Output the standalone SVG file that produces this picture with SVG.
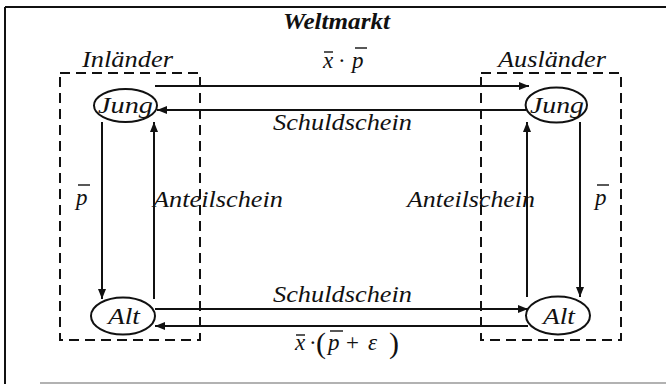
<svg xmlns="http://www.w3.org/2000/svg" width="666" height="384" viewBox="0 0 666 384">
<style>
text{font-family:'Liberation Serif','DejaVu Serif','Times New Roman',serif;font-style:italic;fill:#111;}
.lbl{font-size:23px;}
.node{font-size:23px;}
.up{font-style:normal;}
.par{font-size:30px;font-style:normal;}
.ell{fill:#fff;stroke:#111;stroke-width:2;}
.dash{fill:none;stroke:#111;stroke-width:2;stroke-dasharray:10,6;}
.conn{stroke:#111;stroke-width:2;fill:none;}
.ol{stroke:#111;stroke-width:1.4;}
</style>
<defs>
<marker id="ah" markerWidth="10" markerHeight="8" refX="10" refY="4" orient="auto" markerUnits="userSpaceOnUse">
<path d="M0,0 L10,4 L0,8 Z" fill="#111"/>
</marker>
</defs>
<rect width="666" height="384" fill="#fff"/>
<g id="frame">
<line x1="5" y1="7" x2="666" y2="7" stroke="#111" stroke-width="2"/>
<line x1="5" y1="7" x2="5" y2="384" stroke="#111" stroke-width="2"/>
<line x1="40" y1="383" x2="666" y2="383" stroke="#999" stroke-width="1.5"/>
<text class="lbl" x="283" y="29" textLength="107" lengthAdjust="spacingAndGlyphs" font-weight="bold">Weltmarkt</text>
</g>
<g id="inlaender">
<rect class="dash" x="60" y="73" width="140" height="267"/>
<text class="lbl" x="82" y="67" textLength="91" lengthAdjust="spacingAndGlyphs">Inländer</text>
</g>
<g id="auslaender">
<rect class="dash" x="481" y="73" width="140" height="267"/>
<text class="lbl" x="498" y="67" textLength="108" lengthAdjust="spacingAndGlyphs">Ausländer</text>
</g>
<g id="connectors">
<line class="conn" x1="155" y1="86" x2="529" y2="86" marker-end="url(#ah)"/>
<line class="conn" x1="526" y1="110" x2="157" y2="110" marker-end="url(#ah)"/>
<line class="conn" x1="102" y1="122" x2="102" y2="299" marker-end="url(#ah)"/>
<line class="conn" x1="154" y1="299" x2="154" y2="122" marker-end="url(#ah)"/>
<line class="conn" x1="527" y1="297" x2="527" y2="122" marker-end="url(#ah)"/>
<line class="conn" x1="580" y1="122" x2="580" y2="297" marker-end="url(#ah)"/>
<line class="conn" x1="155" y1="309" x2="528" y2="309" marker-end="url(#ah)"/>
<line class="conn" x1="528" y1="326" x2="155" y2="326" marker-end="url(#ah)"/>
<g id="lbl-xp">
<text class="lbl" x="323" y="68">x</text>
<text class="lbl up" x="338" y="68">·</text>
<text class="lbl" x="352" y="68">p</text>
<line class="ol" x1="324" y1="52" x2="333" y2="52"/>
<line class="ol" x1="355" y1="48" x2="367" y2="48"/>
</g>
<text class="lbl" x="273" y="130" textLength="139" lengthAdjust="spacingAndGlyphs">Schuldschein</text>
<text class="lbl" x="153" y="207" textLength="130" lengthAdjust="spacingAndGlyphs">Anteilschein</text>
<text class="lbl" x="407" y="207" textLength="128" lengthAdjust="spacingAndGlyphs">Anteilschein</text>
<g id="lbl-p-left">
<text class="lbl" x="76" y="205">p</text>
<line class="ol" x1="78" y1="185" x2="90" y2="185"/>
</g>
<g id="lbl-p-right">
<text class="lbl" x="595" y="205">p</text>
<line class="ol" x1="597" y1="185" x2="609" y2="185"/>
</g>
<text class="lbl" x="273" y="302" textLength="139" lengthAdjust="spacingAndGlyphs">Schuldschein</text>
<g id="lbl-xpe">
<text class="lbl" x="295" y="350">x</text>
<text class="lbl up" x="309" y="350">·</text>
<text class="par" x="316" y="353">(</text>
<text class="lbl" x="328" y="350">p</text>
<text class="lbl up" x="346" y="350">+</text>
<text class="lbl" x="368" y="350">ε</text>
<text class="par" x="389" y="353">)</text>
<line class="ol" x1="296" y1="335" x2="305" y2="335"/>
<line class="ol" x1="330" y1="331" x2="343" y2="331"/>
</g>
</g>
<g id="jung-in">
<ellipse class="ell" cx="125.5" cy="105.5" rx="31.5" ry="16.5"/>
<text class="node" x="98" y="113" textLength="55" lengthAdjust="spacingAndGlyphs">Jung</text>
</g>
<g id="jung-aus">
<ellipse class="ell" cx="556.3" cy="105" rx="30.7" ry="17.5"/>
<text class="node" x="530" y="113" textLength="54" lengthAdjust="spacingAndGlyphs">Jung</text>
</g>
<g id="alt-in">
<ellipse class="ell" cx="123" cy="316" rx="32" ry="18.5"/>
<text class="node" x="108" y="324" textLength="32" lengthAdjust="spacingAndGlyphs">Alt</text>
</g>
<g id="alt-aus">
<ellipse class="ell" cx="558" cy="315.5" rx="32" ry="19"/>
<text class="node" x="543" y="324" textLength="32" lengthAdjust="spacingAndGlyphs">Alt</text>
</g>
</svg>
